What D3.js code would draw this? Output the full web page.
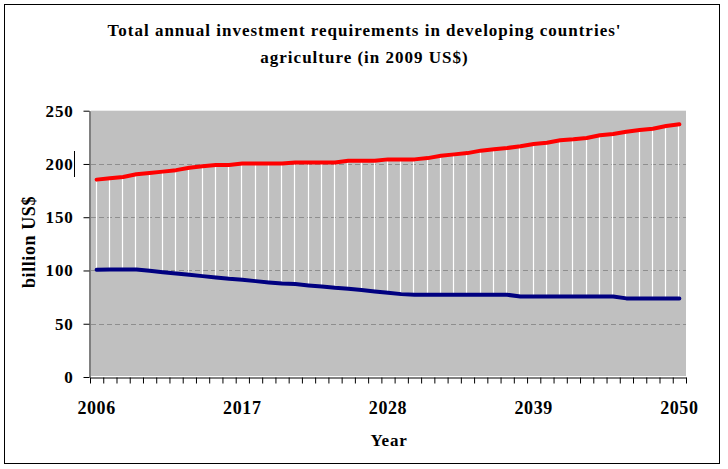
<!DOCTYPE html>
<html><head><meta charset="utf-8">
<script src="https://cdn.jsdelivr.net/npm/d3@7"></script>
<style>body{margin:0;background:#fff}svg{display:block}</style>
</head><body>
<script>
const years = [2006,2007,2008,2009,2010,2011,2012,2013,2014,2015,2016,2017,2018,2019,2020,2021,2022,2023,2024,2025,2026,2027,2028,2029,2030,2031,2032,2033,2034,2035,2036,2037,2038,2039,2040,2041,2042,2043,2044,2045,2046,2047,2048,2049,2050];
const upperValues = [185.3,186.6,187.8,190.3,191.5,192.8,194.2,196.5,197.8,199,199,200.4,200.4,200.4,200.4,201.3,201.3,201.3,201.3,203,203,203,204.3,204.3,204.3,205.5,207.7,209,210.2,212.5,213.8,215,216.6,218.8,220,222.2,223.1,224.4,226.9,228.1,230.3,231.9,233.1,235.6,237.2];
const lowerValues = [100.7,101,101,101,99.7,98.4,97.2,96,94.7,93.5,92.2,91.3,90,88.8,87.8,87.2,86,85,83.8,82.9,81.6,80.3,79.1,77.8,77.2,77.2,77.2,77.2,77.2,77.2,77.2,77.2,75.5,75.5,75.5,75.5,75.5,75.5,75.5,75.5,73.8,73.8,73.8,73.8,73.8];
const yTicks = [0,50,100,150,200,250];
const gridValues = [50,100,150,200];
const xLabelYears = [2006,2017,2028,2039,2050];
const titleLines = ["Total annual investment requirements in developing countries'", "agriculture (in 2009 US$)"];
const yTitle = "billion US$";
const xTitle = "Year";

const W = 728, H = 469;
const FONT = "'Liberation Serif','Times New Roman',serif";
const svg = d3.select("body").append("svg").attr("width", W).attr("height", H);

// outer frame
svg.append("rect").attr("x", 4.5).attr("y", 4.5).attr("width", 715).attr("height", 459)
  .attr("fill", "#fff").attr("stroke", "#000").attr("stroke-width", 1);

const plot = {left: 90, right: 686, top: 110.7, bottom: 377};
const x = d3.scaleBand().domain(years).range([plot.left, plot.right]);
const xi = d3.scaleLinear().domain([0, years.length]).range([plot.left, plot.right]);
const y = d3.scaleLinear().domain([0, 250]).range([plot.bottom, plot.top]);
const cx = d => x(d) + x.bandwidth() / 2;

// plot background
svg.append("rect").attr("x", plot.left + 1).attr("y", plot.top)
  .attr("width", plot.right - plot.left - 1).attr("height", plot.bottom - plot.top - 1)
  .attr("fill", "#c0c0c0");

// gridlines
svg.append("g").selectAll("line").data(gridValues).join("line")
  .attr("x1", plot.left + 1).attr("x2", plot.right)
  .attr("y1", d => Math.round(y(d)) + 0.5).attr("y2", d => Math.round(y(d)) + 0.5)
  .attr("stroke", "#8e8e8e").attr("stroke-width", 1).attr("stroke-dasharray", "5,3");

// high-low lines
svg.append("g").selectAll("line").data(years).join("line")
  .attr("x1", (d) => Math.round(cx(d)) - 0.5).attr("x2", (d) => Math.round(cx(d)) - 0.5)
  .attr("y1", (d, i) => y(lowerValues[i])).attr("y2", (d, i) => y(upperValues[i]))
  .attr("stroke", "#fff").attr("stroke-width", 1.2);

// series lines
const line = d3.line().x(d => cx(d[0])).y(d => y(d[1]));
svg.append("path").datum(years.map((yr, i) => [yr, lowerValues[i]]))
  .attr("d", line).attr("fill", "none").attr("stroke", "#000080")
  .attr("stroke-width", 4).attr("stroke-linejoin", "round").attr("stroke-linecap", "round");
svg.append("path").datum(years.map((yr, i) => [yr, upperValues[i]]))
  .attr("d", line).attr("fill", "none").attr("stroke", "#ff0000")
  .attr("stroke-width", 4).attr("stroke-linejoin", "round").attr("stroke-linecap", "round");

// y axis
const yAxis = svg.append("g").attr("transform", `translate(${plot.left - 0.5},0)`)
  .call(d3.axisLeft(y).tickValues(yTicks).tickSize(6).tickPadding(10).tickSizeOuter(0).tickFormat(d3.format("d")));
yAxis.select(".domain").attr("stroke", "#000");
yAxis.selectAll(".tick line").attr("stroke", "#000");
yAxis.selectAll("text").attr("font-family", FONT).attr("font-weight", "bold")
  .attr("font-size", 17).attr("fill", "#000").attr("letter-spacing", 0.8);

// x axis tick marks at category boundaries
const xAxis = svg.append("g").attr("transform", `translate(0,${plot.bottom + 0.5})`)
  .call(d3.axisBottom(xi).tickValues(d3.range(0, years.length + 1)).tickSize(6).tickSizeOuter(0).tickFormat(""));
xAxis.select(".domain").attr("stroke", "#000");
xAxis.selectAll(".tick line").attr("stroke", "#000");

// x labels
const xLab = svg.append("g").attr("transform", `translate(0,${plot.bottom})`)
  .call(d3.axisBottom(x).tickValues(xLabelYears).tickSize(0).tickPadding(24));
xLab.select(".domain").remove();
xLab.selectAll("text").attr("font-family", FONT).attr("font-weight", "bold")
  .attr("font-size", 18).attr("fill", "#000").attr("letter-spacing", 0.6);

// stray cursor mark near 200 label
svg.append("line").attr("x1", 74.5).attr("x2", 74.5).attr("y1", 151).attr("y2", 177)
  .attr("stroke", "#000").attr("stroke-width", 1);

// title
svg.append("g").selectAll("text").data(titleLines).join("text")
  .attr("x", 364.5).attr("y", (d, i) => 36 + i * 27)
  .attr("text-anchor", "middle").attr("font-family", FONT).attr("font-weight", "bold")
  .attr("font-size", 17).attr("fill", "#000").attr("letter-spacing", 1)
  .text(d => d);

// axis titles
svg.append("text").attr("x", 389).attr("y", 446).attr("text-anchor", "middle")
  .attr("font-family", FONT).attr("font-weight", "bold").attr("font-size", 17)
  .attr("letter-spacing", 0.8).text(xTitle);
svg.append("text").attr("transform", "translate(35,242) rotate(-90)").attr("text-anchor", "middle")
  .attr("font-family", FONT).attr("font-weight", "bold").attr("font-size", 18)
  .attr("letter-spacing", 0.6).text(yTitle);
</script>
</body></html>
